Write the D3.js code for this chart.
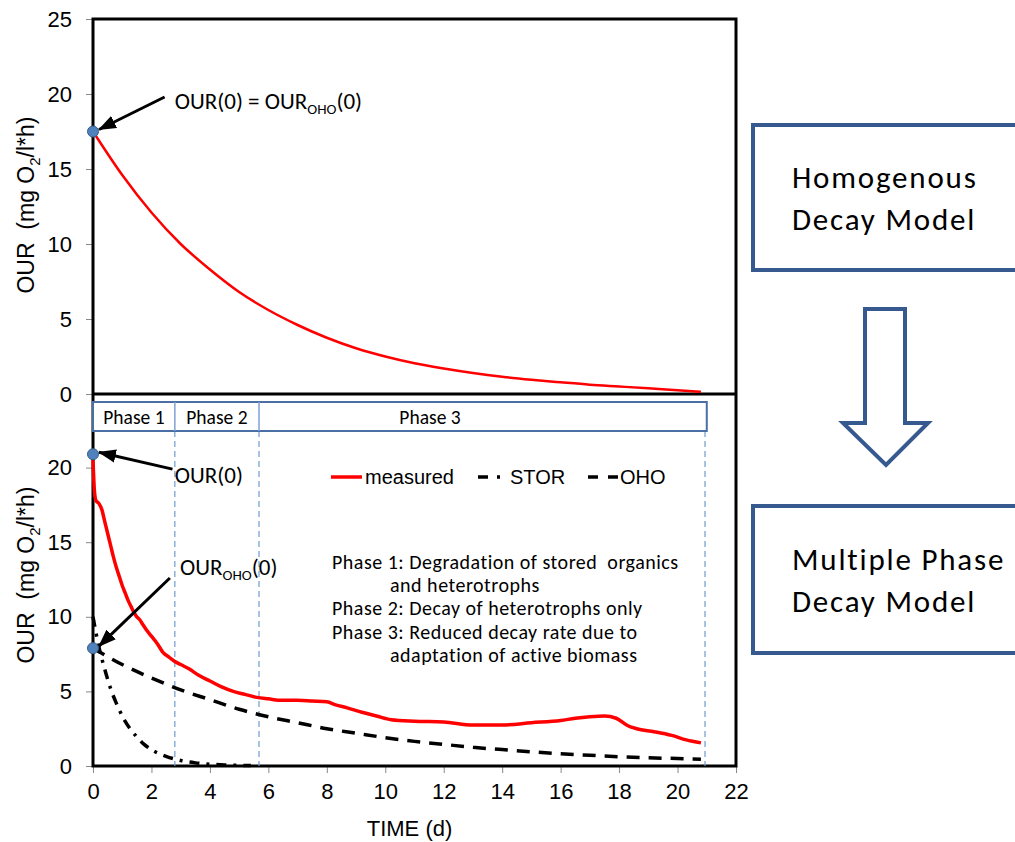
<!DOCTYPE html>
<html>
<meta charset="utf-8">
<head>
<script src="https://cdn.jsdelivr.net/npm/d3@7"></script>
<style>
    body { margin: 0; background: #fff; }
    .tick text { font-family: "Liberation Sans", Arial, sans-serif; font-size: 22px; fill: #000; }
    .tick line { stroke: #888; stroke-width: 1; }
    .axis path { display: none; }
    .cal { font-family: Carlito, Lato, "Open Sans", sans-serif; fill: #000; white-space: pre; }
    .ar { font-family: "Liberation Sans", Arial, sans-serif; fill: #000; white-space: pre; }
</style>
</head>
<body>
<div id="chart"></div>
<script>
    // top panel: homogenous decay model
    const topTime = [0, 1, 2, 3, 4, 5, 6, 7, 8, 9, 10, 11, 12, 13, 14, 15, 16, 17, 18, 19, 20, 20.8];
    const topOUR = [17.5, 14.6, 12.1, 10.0, 8.3, 6.8, 5.6, 4.6, 3.75, 3.05, 2.5, 2.05, 1.7, 1.4, 1.15, 0.95, 0.78, 0.62, 0.5, 0.38, 0.25, 0.15];

    // bottom panel: multiple phase decay model
    const measTime = [0, 0.05, 0.1, 0.2, 0.3, 0.4, 0.5, 0.6, 0.7, 0.8, 0.9, 1.0, 1.1, 1.2, 1.3, 1.4, 1.5, 1.6, 1.7, 1.8,
        2.0, 2.2, 2.4, 2.6, 2.8, 3.0, 3.3, 3.6, 4.0, 4.4, 4.8, 5.2, 5.6, 6.0, 6.5, 7.0, 7.5, 8.0, 8.3, 8.7,
        9.2, 9.7, 10.2, 11.0, 12.0, 13.0, 14.0, 15.0, 16.0, 16.5, 17.0, 17.5, 17.9, 18.3, 18.6, 19.2, 19.8, 20.3, 20.8];
    const measOUR = [20.5, 18.4, 17.8, 17.6, 17.2, 16.4, 15.6, 14.8, 14.0, 13.3, 12.7, 12.1, 11.6, 11.1, 10.7, 10.3, 10.0, 9.8, 9.5, 9.2,
        8.7, 8.2, 7.6, 7.3, 7.0, 6.8, 6.5, 6.1, 5.7, 5.3, 5.0, 4.8, 4.6, 4.5, 4.4, 4.4, 4.35, 4.3, 4.1, 3.9,
        3.6, 3.35, 3.1, 3.0, 2.95, 2.75, 2.75, 2.9, 3.05, 3.2, 3.3, 3.35, 3.2, 2.7, 2.5, 2.3, 2.05, 1.75, 1.55];
    const storTime = [0, 0.2, 0.4, 0.6, 0.8, 1.0, 1.25, 1.5, 1.75, 2.0, 2.5, 3.0, 3.5, 4.0, 4.5, 5.0, 5.4];
    const storOUR = [10, 8.0, 6.5, 5.2, 4.2, 3.35, 2.55, 1.95, 1.45, 1.1, 0.65, 0.37, 0.21, 0.12, 0.07, 0.04, 0.03];
    const ohoTime = [0, 1, 2, 3, 4, 5, 6, 7, 8, 9, 10, 11, 12, 13, 14, 15, 16, 17, 18, 19, 20, 20.8];
    const ohoOUR = [7.9, 6.8, 5.9, 5.1, 4.45, 3.8, 3.3, 2.9, 2.5, 2.2, 1.9, 1.65, 1.45, 1.25, 1.1, 0.95, 0.82, 0.72, 0.62, 0.55, 0.5, 0.45];

    const phaseBounds = [0, 2.8, 5.68, 21.0];
    const phaseNames = ["Phase 1", "Phase 2", "Phase 3"];
    const phaseNotes = [
        ["Phase 1: Degradation of stored  organics", 0],
        ["and heterotrophs", 1],
        ["Phase 2: Decay of heterotrophs only", 0],
        ["Phase 3: Reduced decay rate due to", 0],
        ["adaptation of active biomass", 1]
    ];
    const yTicksTop = [0, 5, 10, 15, 20, 25];
    const yTicksBot = [0, 5, 10, 15, 20];
    const xTicks = [0, 2, 4, 6, 8, 10, 12, 14, 16, 18, 20, 22];

    const width = 1015, height = 842;
    const svg = d3.select("#chart").append("svg")
        .attr("width", width)
        .attr("height", height);

    const x = d3.scaleLinear().domain([0, 22]).range([93, 736]);
    const yTop = d3.scaleLinear().domain([0, 25]).range([394, 19]);
    const yBot = d3.scaleLinear().domain([0, 25]).range([766, 393]);

    svg.append("defs").append("marker")
        .attr("id", "head")
        .attr("markerUnits", "userSpaceOnUse")
        .attr("viewBox", "0 0 16 12")
        .attr("refX", 15).attr("refY", 6)
        .attr("markerWidth", 18).attr("markerHeight", 14)
        .attr("orient", "auto")
        .append("path").attr("d", "M0,0 L16,6 L0,12 z").attr("fill", "#000");

    // axes
    svg.append("g").attr("class", "axis")
        .attr("transform", `translate(${x(0)},0)`)
        .call(d3.axisLeft(yTop).tickValues(yTicksTop).tickSize(7).tickPadding(14));
    svg.append("g").attr("class", "axis")
        .attr("transform", `translate(${x(0)},0)`)
        .call(d3.axisLeft(yBot).tickValues(yTicksBot).tickSize(7).tickPadding(14));
    svg.append("g").attr("class", "axis")
        .attr("transform", `translate(0,${yBot(0)})`)
        .call(d3.axisBottom(x).tickValues(xTicks).tickSize(7).tickPadding(10));

    // frame
    svg.append("rect")
        .attr("x", x(0)).attr("y", yTop(25))
        .attr("width", x(22) - x(0)).attr("height", yBot(0) - yTop(25))
        .attr("fill", "none").attr("stroke", "#000").attr("stroke-width", 3);
    svg.append("line")
        .attr("x1", x(0)).attr("x2", x(22))
        .attr("y1", yTop(0)).attr("y2", yTop(0))
        .attr("stroke", "#000").attr("stroke-width", 3);

    // axis titles
    function yTitle(cy) {
        const t = svg.append("text").attr("class", "ar")
            .attr("transform", `translate(34,${cy}) rotate(-90)`)
            .attr("text-anchor", "middle")
            .attr("font-size", 23);
        t.append("tspan").text("OUR  (mg O");
        t.append("tspan").attr("font-size", 15).attr("dy", 6).text("2");
        t.append("tspan").attr("dy", -6).text("/l*h)");
    }
    yTitle(yTop(12.6));
    yTitle(yBot(12.8));
    svg.append("text").attr("class", "ar")
        .attr("x", (x(0) + x(22)) / 2 - 5).attr("y", 836)
        .attr("text-anchor", "middle").attr("font-size", 22)
        .text("TIME (d)");

    const line = (xs, ys, yScale) => d3.line()
        .x((d, i) => x(xs[i]))
        .y(d => yScale(d))
        .curve(d3.curveMonotoneX)(ys);

    // top curve
    svg.append("path").attr("d", line(topTime, topOUR, yTop))
        .attr("fill", "none").attr("stroke", "#f00").attr("stroke-width", 2.5);

    // phase dividers
    svg.selectAll(".div")
        .data([phaseBounds[1], phaseBounds[2], 20.94])
        .enter().append("line")
        .attr("x1", d => x(d)).attr("x2", d => x(d))
        .attr("y1", 431).attr("y2", yBot(0))
        .attr("stroke", "#6f9bd1").attr("stroke-width", 1.2)
        .attr("stroke-dasharray", "6,4");

    // bottom curves
    svg.append("path").attr("d", line(ohoTime, ohoOUR, yBot))
        .attr("fill", "none").attr("stroke", "#000").attr("stroke-width", 3.5)
        .attr("stroke-dasharray", "13,9");
    svg.append("path").attr("d", line(storTime, storOUR, yBot))
        .attr("fill", "none").attr("stroke", "#000").attr("stroke-width", 3.5)
        .attr("stroke-dasharray", "10,7,3,7");
    svg.append("path").attr("d", line(measTime, measOUR, yBot))
        .attr("fill", "none").attr("stroke", "#f00").attr("stroke-width", 3.5)
        .attr("stroke-linejoin", "round");

    // phase box
    const pb = svg.append("g");
    pb.append("rect")
        .attr("x", x(0)).attr("y", 402)
        .attr("width", x(phaseBounds[3]) - x(0)).attr("height", 29)
        .attr("fill", "#fff").attr("stroke", "#4a6fa5").attr("stroke-width", 2);
    pb.selectAll(".sep").data(phaseBounds.slice(1, 3)).enter().append("line")
        .attr("x1", d => x(d)).attr("x2", d => x(d))
        .attr("y1", 402).attr("y2", 431)
        .attr("stroke", "#7ea2d6").attr("stroke-width", 1.5);
    pb.selectAll(".pl").data(phaseNames).enter().append("text")
        .attr("class", "cal")
        .attr("x", (d, i) => i < 2 ? (x(phaseBounds[i]) + x(phaseBounds[i + 1])) / 2 : 430)
        .attr("y", 424)
        .attr("text-anchor", "middle").attr("font-size", 19.5)
        .text(d => d);

    // legend
    const lg = svg.append("g").attr("transform", "translate(0,477)");
    lg.append("line").attr("x1", 331).attr("x2", 362).attr("stroke", "#f00").attr("stroke-width", 3.5);
    lg.append("text").attr("class", "ar").attr("x", 365).attr("y", 7).attr("font-size", 20).text("measured");
    lg.append("line").attr("x1", 478).attr("x2", 506).attr("stroke", "#000").attr("stroke-width", 3.5)
        .attr("stroke-dasharray", "10,9,3,20");
    lg.append("text").attr("class", "ar").attr("x", 510).attr("y", 7).attr("font-size", 20).text("STOR");
    lg.append("line").attr("x1", 588).attr("x2", 620).attr("stroke", "#000").attr("stroke-width", 3.5)
        .attr("stroke-dasharray", "10,10");
    lg.append("text").attr("class", "ar").attr("x", 620).attr("y", 7).attr("font-size", 20).text("OHO");

    // phase notes
    svg.append("g").selectAll("text").data(phaseNotes).enter().append("text")
        .attr("class", "cal")
        .attr("x", d => d[1] ? 390 : 332)
        .attr("y", (d, i) => 569 + i * 23.2)
        .attr("font-size", 20).attr("letter-spacing", 0.5)
        .text(d => d[0]);

    // annotations
    function annotate(px, py, tx, ty, lx, ly, parts) {
        const cx = x(px), cy = py.s(py.v);
        svg.append("line")
            .attr("x1", x(lx)).attr("y1", py.s(ly))
            .attr("x2", cx + 6).attr("y2", cy - 2)
            .attr("stroke", "#000").attr("stroke-width", 3)
            .attr("marker-end", "url(#head)");
        const t = svg.append("text").attr("class", "cal")
            .attr("x", x(tx)).attr("y", py.s(ty)).attr("font-size", 23);
        parts.forEach(p => {
            if (p[1]) t.append("tspan").attr("font-size", 15).attr("dy", 5).text(p[0]);
            else t.append("tspan").attr("dy", p[2] || 0).text(p[0]);
        });
    }
    annotate(0, { s: yTop, v: 17.5 }, 2.8, 19.0, 2.45, 19.8,
        [["OUR(0) = OUR"], ["OHO", 1], ["(0)", 0, -5]]);
    annotate(0, { s: yBot, v: 20.9 }, 2.8, 19.0, 2.72, 19.9,
        [["OUR(0)"]]);
    annotate(0, { s: yBot, v: 7.9 }, 2.98, 12.8, 2.63, 12.6,
        [["OUR"], ["OHO", 1], ["(0)", 0, -5]]);

    // dots
    svg.selectAll(".dot")
        .data([[yTop, 17.5], [yBot, 20.9], [yBot, 7.9]])
        .enter().append("circle")
        .attr("cx", x(0)).attr("cy", d => d[0](d[1]))
        .attr("r", 5.5)
        .attr("fill", "#4f81bd").attr("stroke", "#385d8a").attr("stroke-width", 1);

    // right-hand model boxes
    const boxColor = "#36598f";
    function modelBox(y0, y1, lines) {
        svg.append("rect")
            .attr("x", 753).attr("y", y0)
            .attr("width", 300).attr("height", y1 - y0)
            .attr("fill", "#fff").attr("stroke", boxColor).attr("stroke-width", 4);
        svg.append("g").selectAll("text").data(lines).enter().append("text")
            .attr("class", "cal")
            .attr("x", 792).attr("y", (d, i) => (y0 + y1) / 2 + 11 - 21 + i * 42)
            .attr("font-size", 31).attr("letter-spacing", 1.8)
            .text(d => d);
    }
    modelBox(125, 270, ["Homogenous", "Decay Model"]);
    modelBox(506, 653, ["Multiple Phase", "Decay Model"]);

    // hollow arrow between boxes
    svg.append("path")
        .attr("d", "M865,309 L905,309 L905,423 L928,423 L886,465 L843,423 L865,423 Z")
        .attr("fill", "#fff").attr("stroke", boxColor).attr("stroke-width", 4)
        .attr("stroke-linejoin", "miter");
</script>
</body>
</html>
